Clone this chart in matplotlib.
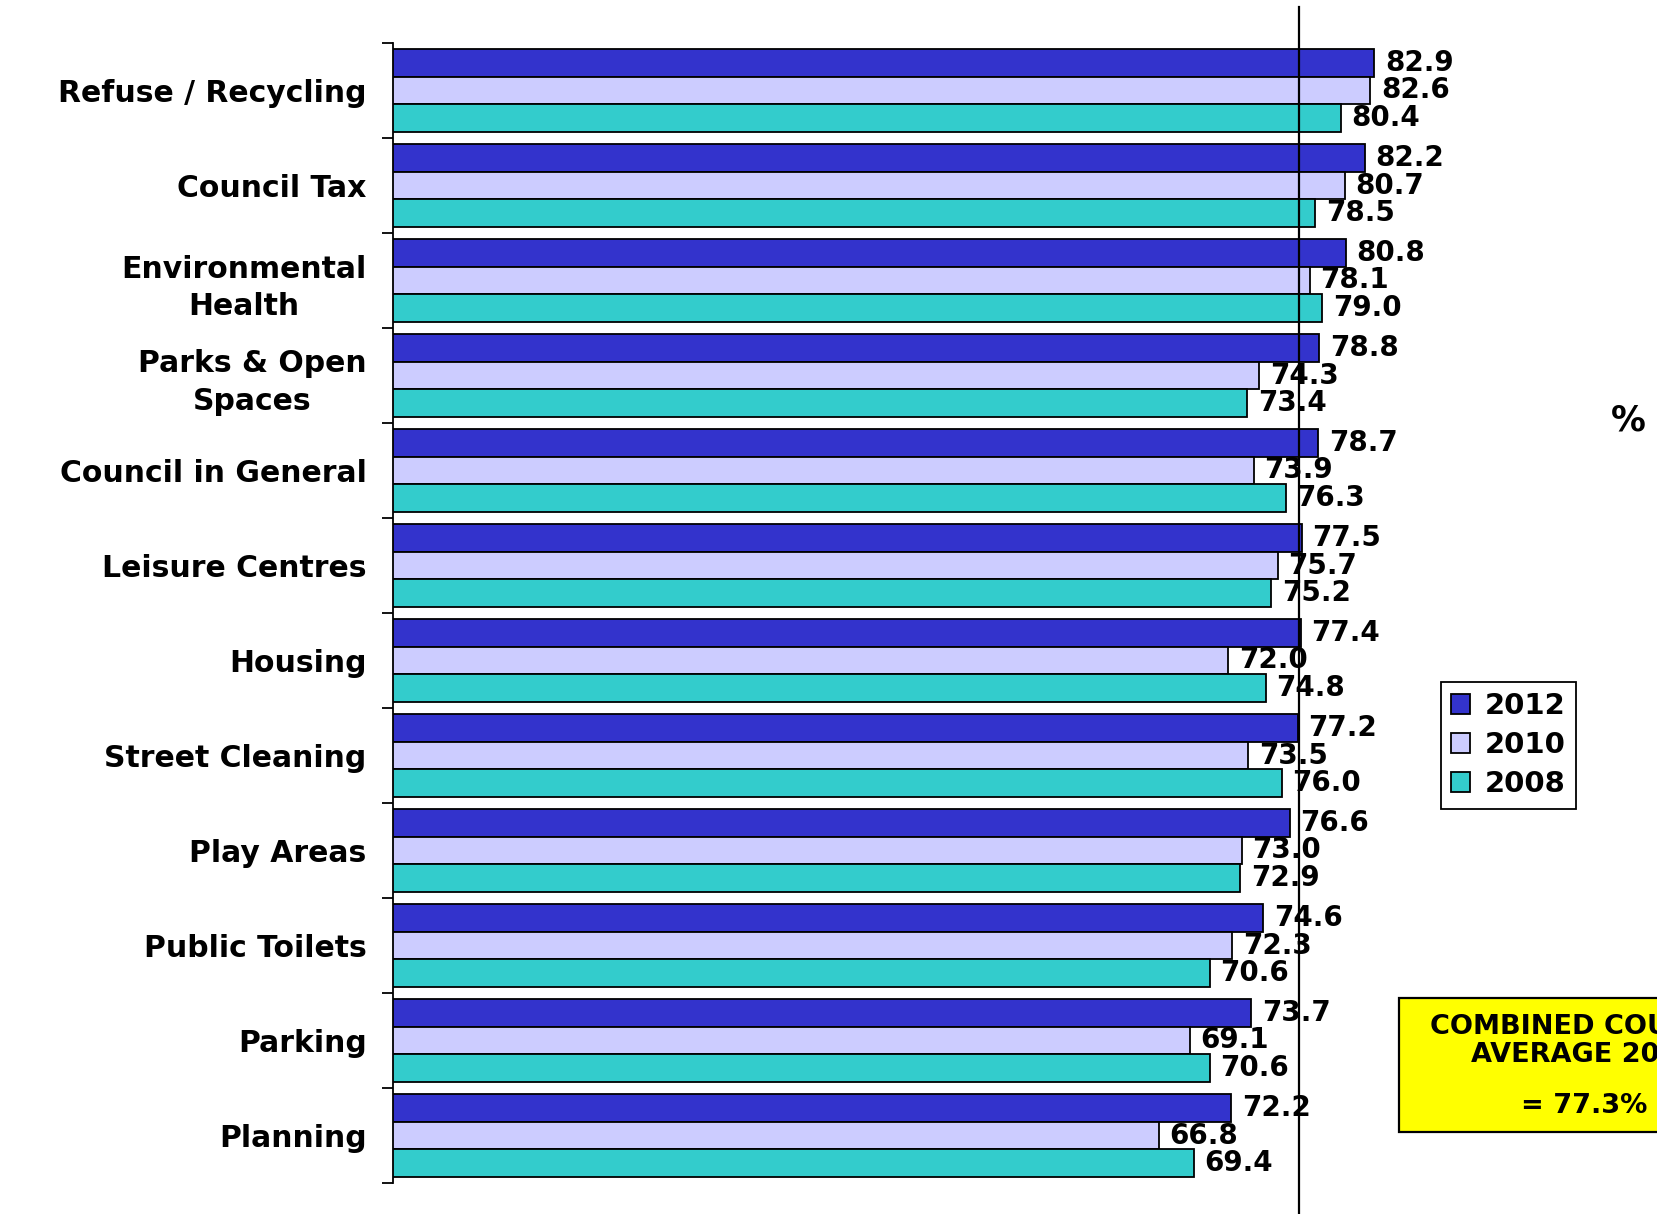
import matplotlib
matplotlib.use("Agg")
import matplotlib.pyplot as plt
from matplotlib.patches import Rectangle
import numpy as np

categories = ["Refuse / Recycling", "Council Tax", "Environmental\nHealth",
              "Parks & Open\nSpaces", "Council in General", "Leisure Centres",
              "Housing", "Street Cleaning", "Play Areas", "Public Toilets",
              "Parking", "Planning"]
years = ["2012", "2010", "2008"]
scores_2012 = [82.9, 82.2, 80.8, 78.8, 78.7, 77.5, 77.4, 77.2, 76.6, 74.6, 73.7, 72.2]
scores_2010 = [82.6, 80.7, 78.1, 74.3, 73.9, 75.7, 72.0, 73.5, 73.0, 72.3, 69.1, 66.8]
scores_2008 = [80.4, 78.5, 79.0, 73.4, 76.3, 75.2, 74.8, 76.0, 72.9, 70.6, 70.6, 69.4]
combined_average = 77.3
colors = ["#3333CC", "#CCCCFF", "#33CCCC"]

plt.rcParams["font.family"] = ["DejaVu Sans"]
plt.rcParams["font.weight"] = "bold"

W, H = 1657, 1214
fig = plt.figure(figsize=(W / 100, H / 100), dpi=100)
ax_left = 393 / W
ax_bottom = (H - 1183) / H
ax_top = (H - 43) / H
ax = fig.add_axes([ax_left, ax_bottom, 1 - ax_left, ax_top - ax_bottom])

n = len(categories)
y = np.arange(n)
bar_h = 0.29
series = [scores_2012, scores_2010, scores_2008]
for k, (vals, col, lab) in enumerate(zip(series, colors, years)):
    ypos = y + (k - 1) * bar_h
    ax.barh(ypos, vals, height=bar_h, color=col, edgecolor="black",
            linewidth=1.3, label=lab, zorder=2)
    for yy, v in zip(ypos, vals):
        ax.text(v + 0.8, yy, f"{v:.1f}", va="center", ha="left",
                fontsize=20, fontweight="bold", zorder=4)

ax.set_xlim(9.52, 104.06)
ax.set_ylim(n - 0.5, -0.5)

# Group separators as ticks, category names as minor tick labels
ax.set_yticks(np.arange(-0.5, n, 1.0))
ax.set_yticklabels([])
ax.set_yticks(y, minor=True)
ax.set_yticklabels(categories, minor=True, fontsize=21.5, fontweight="bold",
                   multialignment="center", linespacing=1.35)
ax.tick_params(axis="y", which="major", length=8, width=1.3, direction="out")
ax.tick_params(axis="y", which="minor", length=0, pad=19)
ax.set_xticks([])
for side in ["top", "right", "bottom"]:
    ax.spines[side].set_visible(False)
ax.spines["left"].set_linewidth(1.3)

# Combined average reference line
bottom_frac = (0 - ax_bottom) / (ax_top - ax_bottom)
top_frac = ((H - 7) / H - ax_bottom) / (ax_top - ax_bottom)
ax.axvline(combined_average, ymin=bottom_frac, ymax=top_frac, color="black",
           linewidth=1.6, clip_on=False, zorder=3)

leg = ax.legend(loc="upper left", bbox_to_anchor=(1441 / W, 1 - 682 / H),
                bbox_transform=fig.transFigure, borderaxespad=0, fancybox=False,
                edgecolor="black", framealpha=1, prop={"size": 21, "weight": "bold"},
                handlelength=0.65, handleheight=0.65, handletextpad=0.5,
                labelspacing=0.38, borderpad=0.35)
leg.get_frame().set_linewidth(1.3)

fig.text(1628 / W, 1 - 420 / H, "%", ha="center", va="center",
         fontsize=25, fontweight="bold")

fig.patches.append(Rectangle((1399 / W, 1 - 1132 / H), 400 / W, (1132 - 998) / H,
                             transform=fig.transFigure, facecolor="#FFFF00",
                             edgecolor="black", linewidth=1.6, zorder=1))
fig.text(1584 / W, 1 - 1041 / H, "COMBINED COUNCIL\nAVERAGE 2012", ha="center",
         va="center", fontsize=19.5, fontweight="bold", linespacing=1.15)
fig.text(1584 / W, 1 - 1106 / H, f"= {combined_average}%", ha="center",
         va="center", fontsize=19.5, fontweight="bold")

fig.savefig("out.png", dpi=100)
